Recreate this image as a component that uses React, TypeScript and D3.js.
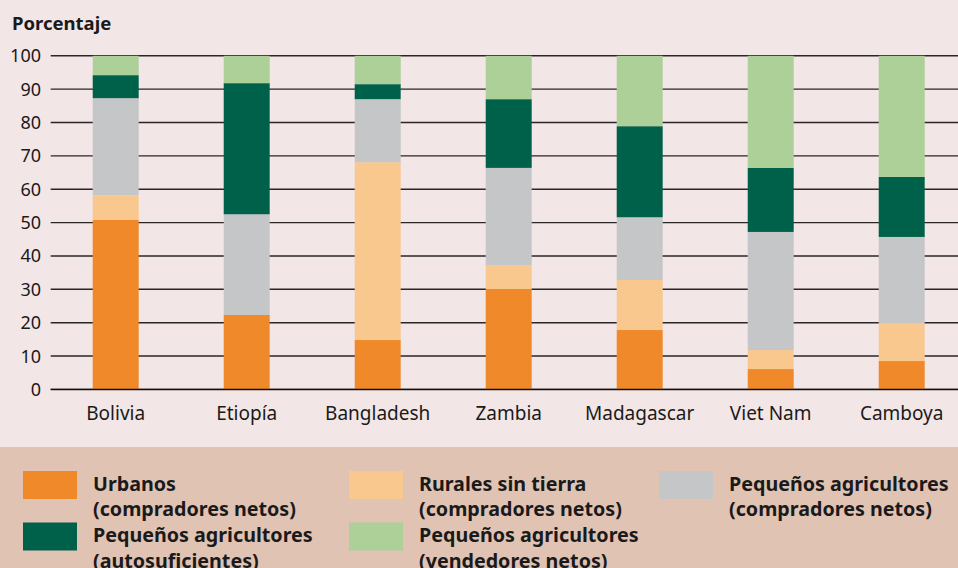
import React from "react";
import * as d3 from "d3";

const categories = ["Bolivia", "Etiopía", "Bangladesh", "Zambia", "Madagascar", "Viet Nam", "Camboya"];
const seriesNames = [
  ["Urbanos", "(compradores netos)"],
  ["Rurales sin tierra", "(compradores netos)"],
  ["Pequeños agricultores", "(compradores netos)"],
  ["Pequeños agricultores", "(autosuficientes)"],
  ["Pequeños agricultores", "(vendedores netos)"],
];
const urbanos = [50.8, 22.3, 14.8, 30.1, 17.8, 6.1, 8.5];
const ruralesSinTierra = [7.4, 0, 53.3, 7.2, 15.0, 5.7, 11.4];
const pequenosCompradores = [29.1, 30.2, 18.9, 29.1, 18.8, 35.4, 25.8];
const pequenosAutosuficientes = [6.9, 39.3, 4.5, 20.6, 27.3, 19.2, 18.0];
const pequenosVendedores = [5.8, 8.2, 8.5, 13.0, 21.1, 33.6, 36.3];
const yTicks = [0, 10, 20, 30, 40, 50, 60, 70, 80, 90, 100];
const colors = ["#f0892a", "#f9c88f", "#c5c6c7", "#00614a", "#acd097"];

const W = 958;
const H = 568;

export default function App() {
  const seriesValues = [urbanos, ruralesSinTierra, pequenosCompradores, pequenosAutosuficientes, pequenosVendedores];
  const rows = categories.map((c, i) => {
    const r: any = { cat: c };
    seriesValues.forEach((s, k) => (r["s" + k] = s[i]));
    return r;
  });
  const keys = seriesValues.map((_, k) => "s" + k);
  const stacked = d3.stack().keys(keys)(rows);

  const x = d3.scaleBand<string>().domain(categories).range([50.2, 967.2]).paddingInner(0.649).paddingOuter(0.3245);
  const y = d3.scaleLinear().domain([0, 100]).range([389.4, 55.8]);

  const font = "'Noto Sans', 'Open Sans', sans-serif";
  const legendCols = [23, 349, 659];
  const legendPos = [
    { col: 0, row: 0 },
    { col: 1, row: 0 },
    { col: 2, row: 0 },
    { col: 0, row: 1 },
    { col: 1, row: 1 },
  ];

  return (
    <div style={{ position: "absolute", left: 0, top: 0 }}>
      <svg width={W} height={H} style={{ display: "block" }}>
        <rect x={0} y={0} width={W} height={447} fill="#f2e6e7" />
        <rect x={0} y={447} width={W} height={H - 447} fill="#e1c3b4" />
        <text x={12} y={29.5} fontFamily={font} fontWeight="bold" fontSize={18.5} fill="#1a1a1a">
          Porcentaje
        </text>
        {yTicks.map((t) => (
          <g key={t}>
            <line x1={50.7} x2={W} y1={y(t)} y2={y(t)} stroke="#2b2627" strokeWidth={1.4} />
            <text x={41} y={y(t)} dy="0.36em" textAnchor="end" fontFamily={font} fontSize={18} fill="#1a1a1a">
              {t}
            </text>
          </g>
        ))}
        {stacked.map((layer, k) => (
          <g key={k} fill={colors[k]}>
            {layer.map((d, i) => (
              <rect
                key={i}
                x={x(categories[i])}
                width={x.bandwidth()}
                y={y(d[1])}
                height={Math.max(0, y(d[0]) - y(d[1]))}
              />
            ))}
          </g>
        ))}
        <line x1={50.7} x2={W} y1={y(0)} y2={y(0)} stroke="#111" strokeWidth={1.5} />
        {categories.map((c) => (
          <text
            key={c}
            x={(x(c) as number) + x.bandwidth() / 2}
            y={420}
            textAnchor="middle"
            fontFamily={font}
            fontSize={19}
            fill="#1a1a1a"
          >
            {c}
          </text>
        ))}
        {seriesNames.map((names, k) => {
          const p = legendPos[k];
          const sx = legendCols[p.col];
          const sy = 471 + p.row * 51.5;
          return (
            <g key={k}>
              <rect x={sx} y={sy} width={54} height={28} fill={colors[k]} />
              {names.map((n, j) => (
                <text
                  key={j}
                  x={sx + 70}
                  y={sy + 19.7 + j * 25.4}
                  fontFamily={font}
                  fontWeight="bold"
                  fontSize={19.7}
                  fill="#1a1a1a"
                >
                  {n}
                </text>
              ))}
            </g>
          );
        })}
      </svg>
    </div>
  );
}
